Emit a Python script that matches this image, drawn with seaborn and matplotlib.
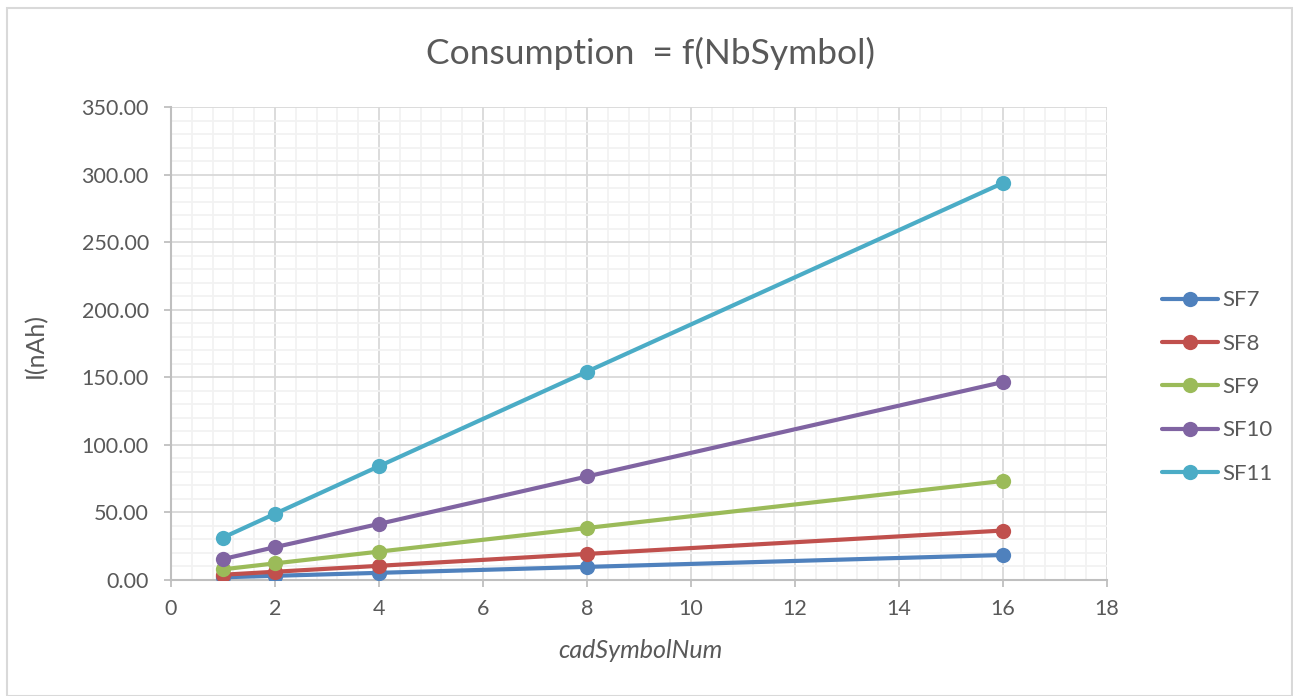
import numpy as np
import pandas as pd
import matplotlib
matplotlib.use("Agg")
import matplotlib.pyplot as plt
from matplotlib.patches import Rectangle
from matplotlib.ticker import MultipleLocator, FormatStrFormatter
import seaborn as sns

# ---- data ----
x_vals = [1, 2, 4, 8, 16]
sf7 = [2.0, 3.1, 5.3, 9.7, 18.5]
sf8 = [3.9, 6.1, 10.5, 19.3, 36.6]
sf9 = [7.9, 12.3, 21.0, 38.5, 73.3]
sf10 = [15.5, 24.3, 41.5, 76.6, 146.5]
sf11 = [31.4, 49.0, 84.2, 154.2, 293.8]
series_names = ["SF7", "SF8", "SF9", "SF10", "SF11"]
colors = ["#4F81BD", "#C0504D", "#9BBB59", "#8064A2", "#4BACC6"]

title = "Consumption  = f(NbSymbol)"
xlabel = "cadSymbolNum"
ylabel = "I(nAh)"

rows = []
for name, vals in zip(series_names, [sf7, sf8, sf9, sf10, sf11]):
    for xv, yv in zip(x_vals, vals):
        rows.append({"x": xv, "y": yv, "series": name})
df = pd.DataFrame(rows)

sns.set_theme(style="white")
plt.rcParams["font.family"] = ["Lato", "DejaVu Sans"]
text_color = "#595959"

fig = plt.figure(figsize=(12.93, 6.96), dpi=100)
ax = fig.add_axes([171/1293, 1-580/696, (1107-171)/1293, (580-107)/696])

sns.lineplot(data=df, x="x", y="y", hue="series", hue_order=series_names,
             palette=colors, marker="o", markersize=11, markeredgewidth=0,
             linewidth=3.0, ax=ax, legend=False, zorder=3)

ax.set_xlim(0, 18)
ax.set_ylim(0, 350)
ax.xaxis.set_major_locator(MultipleLocator(2))
ax.xaxis.set_minor_locator(MultipleLocator(0.4))
ax.yaxis.set_major_locator(MultipleLocator(50))
ax.yaxis.set_minor_locator(MultipleLocator(10))
ax.yaxis.set_major_formatter(FormatStrFormatter("%.2f"))

ax.grid(which="major", color="#D9D9D9", linewidth=1.3, zorder=0)
ax.grid(which="minor", color="#F2F2F2", linewidth=1.3, zorder=0)
ax.set_axisbelow(True)

for s in ["top", "right"]:
    ax.spines[s].set_visible(False)
for s in ["left", "bottom"]:
    ax.spines[s].set_color("#BFBFBF")
    ax.spines[s].set_linewidth(1.5)

ax.tick_params(axis="both", which="major", direction="out", length=5, width=1.3,
               color="#BFBFBF", labelsize=15.5, labelcolor=text_color)
ax.tick_params(axis="y", which="major", pad=11)
ax.tick_params(axis="x", which="major", pad=9)
ax.tick_params(which="minor", length=0)
ax.xaxis.set_ticks_position("bottom")
ax.yaxis.set_ticks_position("left")

ax.set_xlabel(xlabel, fontsize=18, color=text_color, style="italic")
ax.set_ylabel(ylabel, fontsize=18, color=text_color)
ax.xaxis.set_label_coords(640/936 - 171/936, (580-650)/473)
ax.xaxis.label.set_va("center")
ax.yaxis.set_label_coords((35-171)/936, (580-345)/473)
ax.yaxis.label.set_va("center")

fig.text(650/1293, 1-53/696, title, fontsize=25.5, color=text_color,
         ha="center", va="center")

handles = [plt.Line2D([], [], color=c, marker="o", markersize=11, markeredgewidth=0,
                      linewidth=3.0) for c in colors]
fig.legend(handles, series_names, loc="center left",
           bbox_to_anchor=(1162/1293, 1-387/696), frameon=False, fontsize=16,
           labelcolor=text_color, labelspacing=1.05, handlelength=2.5,
           handletextpad=0.2, borderaxespad=0, borderpad=0)

fig.patches.append(Rectangle((7/1293, 0), (1293-8)/1293, 1-8/696,
                             transform=fig.transFigure, fill=False,
                             edgecolor="#D9D9D9", linewidth=1.5))

fig.savefig("out.png", dpi=100, facecolor="white")
